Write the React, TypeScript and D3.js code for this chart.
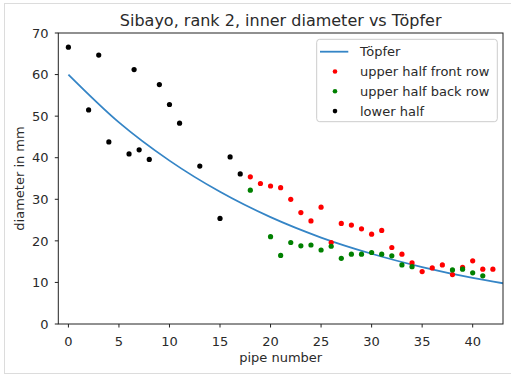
import React from "react";
import * as d3 from "d3";

const TITLE = "Sibayo, rank 2, inner diameter vs Töpfer";
const X_TICKS = [0, 5, 10, 15, 20, 25, 30, 35, 40];
const Y_TICKS = [0, 10, 20, 30, 40, 50, 60, 70];

const TOPFER_X = [0, 5, 10, 15, 20, 25, 30, 35, 40, 43];
const TOPFER_Y = [60, 48.5, 39.3, 31.8, 25.7, 20.8, 16.9, 13.7, 11.1, 9.8];

const FRONT_X = [18, 19, 20, 21, 22, 23, 24, 25, 26, 27, 28, 29, 30, 31, 32, 33, 34, 35, 36, 37, 38, 39, 40, 41, 42];
const FRONT_Y = [35.4, 33.8, 33.2, 32.8, 30.0, 26.8, 24.8, 28.1, 19.6, 24.2, 23.8, 22.9, 21.6, 22.5, 18.4, 16.8, 14.7, 12.6, 13.5, 14.2, 11.9, 13.6, 15.2, 13.2, 13.2];

const BACK_X = [18, 20, 21, 22, 23, 24, 25, 26, 27, 28, 29, 30, 31, 32, 33, 34, 38, 39, 40, 41];
const BACK_Y = [32.2, 21.0, 16.5, 19.6, 18.8, 19.0, 17.8, 18.7, 15.8, 16.8, 16.8, 17.2, 16.8, 16.4, 14.2, 13.8, 13.0, 13.2, 12.3, 11.6];

const LOWER_X = [0, 2, 3, 4, 6, 6.5, 7, 8, 9, 10, 11, 13, 15, 16, 17];
const LOWER_Y = [66.6, 51.5, 64.7, 43.8, 40.9, 61.2, 41.9, 39.6, 57.6, 52.8, 48.3, 38.0, 25.4, 40.2, 36.1];

const FONT = "DejaVu Sans, sans-serif";
const TXT = "#2a2a2a";
const LINE_COLOR = "#3585c6";

export default function App() {
  const W = 511, H = 376;
  const L = 58.3, R = 503, T = 33, B = 324;
  const x = d3.scaleLinear().domain([-1, 43]).range([L, R]);
  const y = d3.scaleLinear().domain([0, 70]).range([B, T]);

  const line = d3
    .line<number>()
    .x((_, i) => x(TOPFER_X[i]))
    .y((d) => y(d))
    .curve(d3.curveMonotoneX);

  const series = [
    { xs: FRONT_X, ys: FRONT_Y, color: "#ff0000" },
    { xs: BACK_X, ys: BACK_Y, color: "#008000" },
    { xs: LOWER_X, ys: LOWER_Y, color: "#000000" },
  ];

  const legendItems = [
    { label: "Töpfer", type: "line", color: LINE_COLOR },
    { label: "upper half front row", type: "dot", color: "#ff0000" },
    { label: "upper half back row", type: "dot", color: "#008000" },
    { label: "lower half", type: "dot", color: "#000000" },
  ];

  return (
    <svg
      width={W}
      height={H}
      style={{ position: "absolute", left: 0, top: 0, background: "#fff" }}
      fontFamily={FONT}
    >
      <rect x={4.5} y={3.5} width={530} height={370} fill="#fff" stroke="#dcdcdc" />
      <defs>
        <clipPath id="plotclip">
          <rect x={L} y={T} width={R - L} height={B - T} />
        </clipPath>
      </defs>

      <text x={(L + R) / 2} y={26} textAnchor="middle" fontSize={16} fill={TXT}>
        {TITLE}
      </text>

      {/* Töpfer line */}
      <path
        d={line(TOPFER_Y) || ""}
        fill="none"
        stroke={LINE_COLOR}
        strokeWidth={1.8}
        clipPath="url(#plotclip)"
      />

      {/* points */}
      {series.map((s, si) => (
        <g key={si} clipPath="url(#plotclip)">
          {s.xs.map((xv, i) => (
            <circle key={i} cx={x(xv)} cy={y(s.ys[i])} r={2.6} fill={s.color} />
          ))}
        </g>
      ))}

      {/* spines */}
      <rect x={L} y={T} width={R - L} height={B - T} fill="none" stroke="#222" strokeWidth={1} />

      {/* x ticks */}
      {X_TICKS.map((t) => (
        <g key={"x" + t}>
          <line x1={x(t)} x2={x(t)} y1={B} y2={B + 3.5} stroke="#222" />
          <text x={x(t)} y={346} textAnchor="middle" fontSize={13} fill={TXT}>
            {t}
          </text>
        </g>
      ))}
      <text x={(L + R) / 2} y={362} textAnchor="middle" fontSize={13} fill={TXT}>
        pipe number
      </text>

      {/* y ticks */}
      {Y_TICKS.map((t) => (
        <g key={"y" + t}>
          <line x1={L - 3.5} x2={L} y1={y(t)} y2={y(t)} stroke="#222" />
          <text x={48.5} y={y(t)} dy="0.36em" textAnchor="end" fontSize={13} fill={TXT}>
            {t}
          </text>
        </g>
      ))}
      <text
        transform={`translate(23.5,${(T + B) / 2}) rotate(-90)`}
        textAnchor="middle"
        fontSize={13}
        fill={TXT}
      >
        diameter in mm
      </text>

      {/* legend */}
      <rect
        x={316.7}
        y={39.3}
        width={180.6}
        height={82.4}
        rx={3}
        fill="#fff"
        fillOpacity={0.8}
        stroke="#cccccc"
      />
      {legendItems.map((it, i) => {
        const cy = 51.7 + i * 19.8;
        return (
          <g key={it.label}>
            {it.type === "line" ? (
              <line x1={320} x2={348.3} y1={cy} y2={cy} stroke={it.color} strokeWidth={1.8} />
            ) : (
              <circle cx={335} cy={cy} r={2.3} fill={it.color} />
            )}
            <text x={360} y={cy} dy="0.36em" fontSize={13} fill={TXT}>
              {it.label}
            </text>
          </g>
        );
      })}
    </svg>
  );
}
